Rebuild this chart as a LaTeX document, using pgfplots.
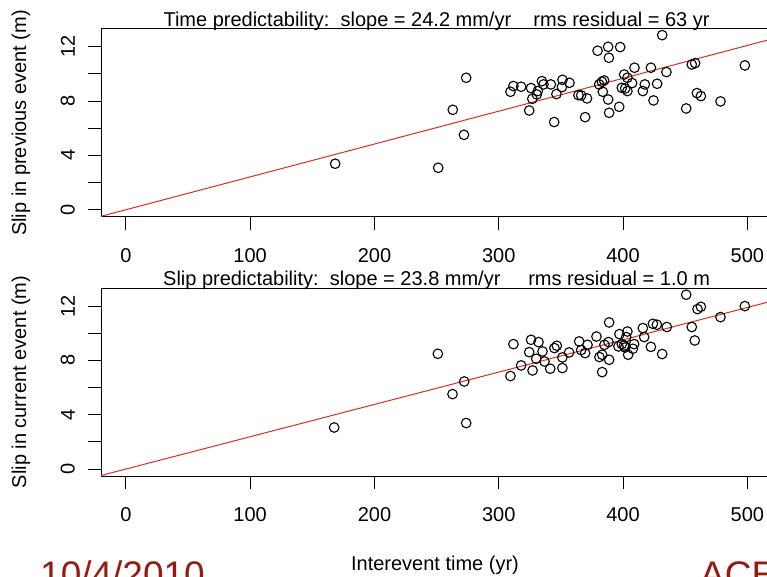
\documentclass[border=0pt]{standalone}
\usepackage{pgfplots}
\pgfplotsset{compat=1.18}
\usepackage{fontspec}
\setmainfont{Liberation Sans}
\definecolor{fitred}{RGB}{215,48,31}
\definecolor{slidered}{RGB}{150,25,20}
\pgfplotsset{
  rpanel/.style={
    anchor=south west, scale only axis, width=671.2pt, height=187.7pt,
    xmin=-20, xmax=520, ymin=-0.512, ymax=13.312,
    axis line style={line width=1pt, black},
    tick style={line width=1pt, black},
    tick align=outside, major tick length=13pt, tick pos=left,
    xtick={0,100,200,300,400,500}, xticklabels={0,100,200,300,400,500},
    ytick={0,2,4,6,8,10,12}, yticklabels={0,,4,,8,,12},
    tick label style={font=\fontsize{20}{24}\selectfont},
    xticklabel style={anchor=north, inner sep=0pt, yshift=-18.6pt},
    yticklabel style={rotate=90, anchor=south, inner sep=0pt, yshift=13pt},
  },
  pts/.style={only marks, mark=o, mark size=4.8pt, mark options={line width=1.1pt, black}},
  fit/.style={fitred, line width=1pt, no marks},
}
\begin{document}
\fontsize{20}{24}\selectfont
\begin{tikzpicture}
\path[use as bounding box] (0pt,0pt) rectangle (767pt,576pt);
\clip (0pt,0pt) rectangle (767pt,576pt);
% top panel
\begin{axis}[rpanel, at={(101pt,359.3pt)}]
\addplot[fit] coordinates {(-20,-0.484) (540,13.068)};
\addplot[pts] coordinates {
(168.4,3.39) (251.3,3.09) (263,7.36) (272,5.52) (273.8,9.72)
(309.4,8.69) (311.8,9.11) (318,9.06) (324.5,7.31) (326,8.96)
(327,8.17) (330.6,8.49) (331.4,8.74) (334.7,9.47) (336,9.23)
(341.9,9.23) (344.6,6.46) (346.4,8.52) (350.8,9.03) (351.3,9.57)
(356.9,9.35) (364.1,8.44) (366.3,8.42) (369.5,6.82) (371,8.2)
(379.5,11.71) (380.8,9.23) (383,9.43) (383.7,8.69) (384.8,9.52)
(388,12.0) (388.6,11.19) (388,8.12) (388.8,7.14) (396.9,7.58)
(397.7,11.98) (399,8.98) (400.9,9.96) (401.7,8.93) (403.5,9.72)
(403.5,8.74) (407.3,9.33) (409.2,10.46) (415.9,8.74) (417.5,9.23)
(422.4,10.46) (424.5,8.05) (427.4,9.28) (431.5,12.86) (434.9,10.14)
(450.8,7.46) (455.3,10.7) (458,10.8) (459.4,8.59) (462.6,8.37)
(478.4,7.98) (498,10.63)
};
\end{axis}
% bottom panel
\begin{axis}[rpanel, at={(101pt,100pt)}]
\addplot[fit] coordinates {(-20,-0.476) (540,12.852)};
\addplot[pts] coordinates {
(167.6,3.06) (251,8.49) (262.8,5.52) (272.2,6.45) (273.8,3.39)
(309.4,6.85) (311.8,9.2) (318,7.63) (324.5,8.61) (326,9.52)
(327.2,7.26) (330.2,8.12) (332,9.35) (335.2,8.66) (336.8,7.92)
(341.4,7.39) (344.8,8.91) (346.7,9.08) (351.2,8.22) (351.2,7.44)
(356.6,8.59) (364.7,9.4) (366.3,8.76) (369.5,8.54) (371.4,9.15)
(378.6,9.76) (381,8.25) (383.2,8.42) (383.2,7.14) (385,9.15)
(388.3,9.35) (388.8,10.8) (388.8,8.05) (396.3,9.03) (397.1,9.94)
(399,9.2) (400.9,9.1) (401.7,8.95) (402.5,9.72) (403.5,10.13)
(404.1,8.42) (407.9,8.86) (408.9,9.2) (415.9,10.38) (417,9.72)
(422.4,9.0) (424,10.7) (427.2,10.63) (431.5,8.47) (435.2,10.46)
(450.8,12.84) (455.3,10.46) (457.7,9.47) (459.9,11.78) (462.6,11.95)
(478.4,11.19) (498,12.0)
};
\end{axis}
% titles and labels
\node[anchor=base, inner sep=0pt] at (436.6pt,549.5pt) {Time predictability:\ \ slope = 24.2 mm/yr\ \ \ \ rms residual = 63 yr};
\node[anchor=base, inner sep=0pt] at (436.6pt,290.2pt) {Slip predictability:\ \ slope = 23.8 mm/yr\ \ \ \ \ rms residual = 1.0 m};
\node[rotate=90, inner sep=0pt] at (21pt,453pt) {Slip in previous event (m)};
\node[rotate=90, inner sep=0pt] at (21pt,194pt) {Slip in current event (m)};
\node[anchor=base, inner sep=0pt] at (435pt,6pt) {Interevent time (yr)};
\node[anchor=base west, inner sep=0pt, text=slidered, font=\fontsize{37}{44}\selectfont] at (40pt,-11.5pt) {10/4/2010};
\node[anchor=base west, inner sep=0pt, text=slidered, font=\fontsize{37}{44}\selectfont] at (700pt,-11.5pt) {ACE};
\end{tikzpicture}
\end{document}
